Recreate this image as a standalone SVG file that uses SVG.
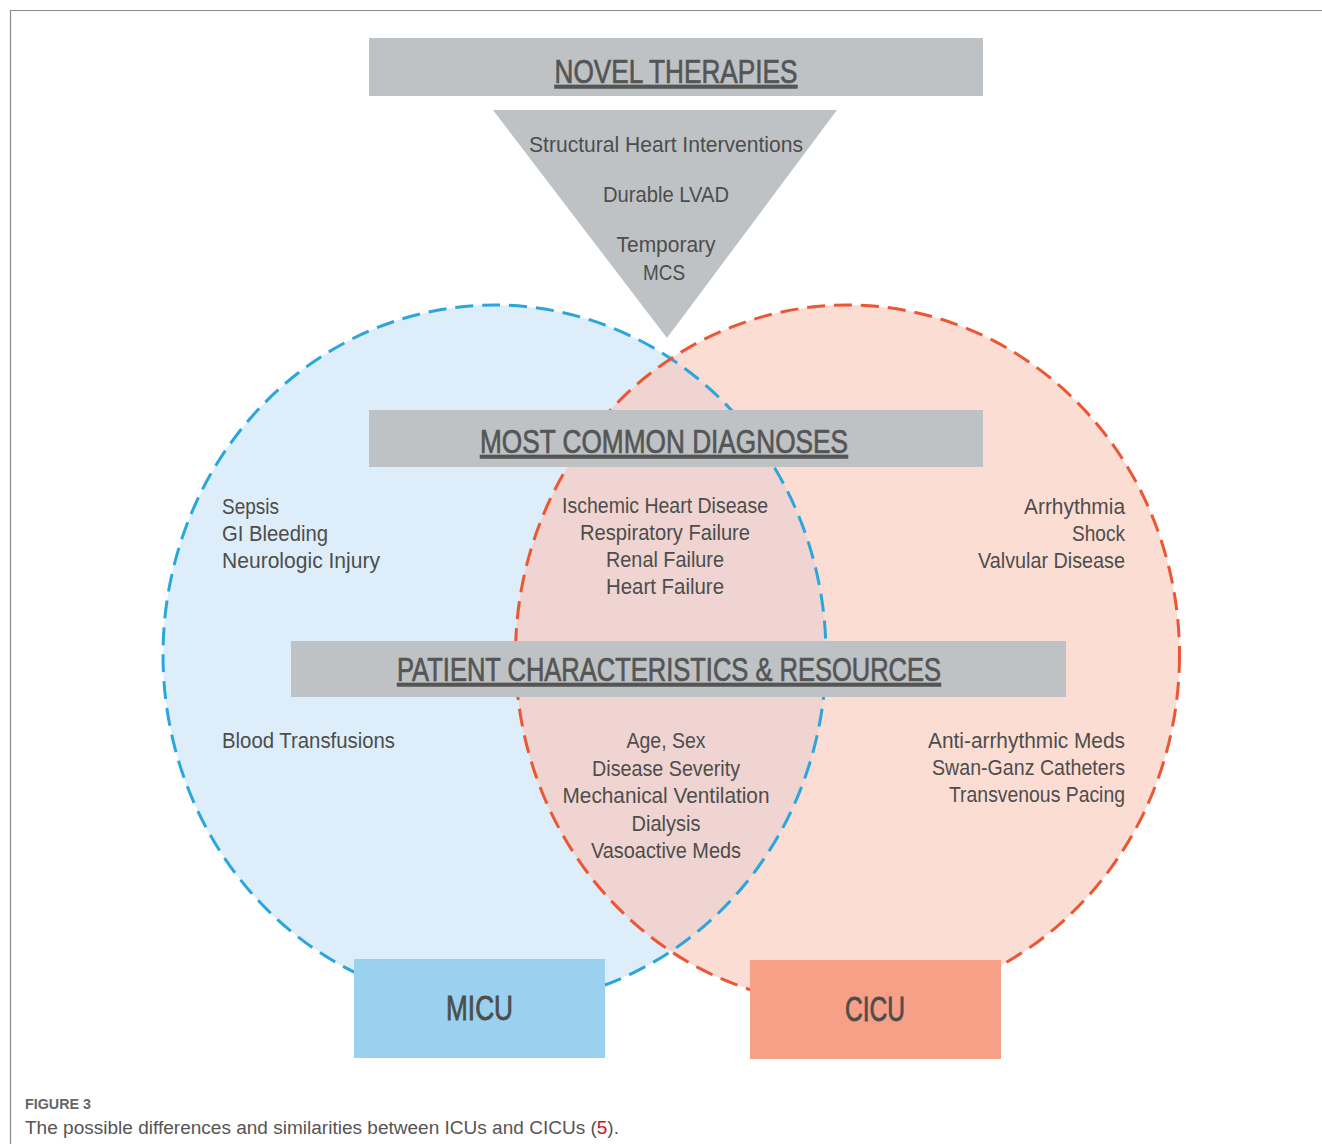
<svg xmlns="http://www.w3.org/2000/svg" width="1322" height="1144" viewBox="0 0 1322 1144">
<style>
.t{font-family:"Liberation Sans",Arial,sans-serif;font-size:22px;fill:#4d4d4d}
.h{font-family:"Liberation Sans",Arial,sans-serif;font-size:33px;fill:#555555;stroke:#555555;stroke-width:0.7;text-decoration:underline}
.u{font-family:"Liberation Sans",Arial,sans-serif;font-size:35px;fill:#4d4d4d;stroke:#4d4d4d;stroke-width:0.8}
.box{fill:#bfc2c4}
.m{text-anchor:middle}
.e{text-anchor:end}
.dash{fill:none;stroke-width:3;stroke-dasharray:18 9}
</style>
<defs>
<clipPath id="clipBlue"><ellipse cx="494.5" cy="655" rx="331.5" ry="350"/></clipPath>
</defs>
<rect width="1322" height="1144" fill="#ffffff"/>
<g id="frame"><path d="M10.5 1144 V10.5 H1322" fill="none" stroke="#8a8a8a" stroke-width="1.2"/></g>

<g id="micu-circle-fill"><ellipse cx="494.5" cy="655" rx="331.5" ry="350" fill="#ddeefa"/></g>
<g id="cicu-circle-fill"><ellipse cx="847.5" cy="655" rx="332" ry="350" fill="#fbddd3"/></g>
<g id="overlap"><ellipse cx="847.5" cy="655" rx="332" ry="350" fill="#efd4d1" clip-path="url(#clipBlue)"/></g>
<g id="micu-circle"><ellipse class="dash" cx="494.5" cy="655" rx="331.5" ry="350" stroke="#2aa6dd"/></g>
<g id="cicu-circle"><ellipse class="dash" cx="847.5" cy="655" rx="332" ry="350" stroke="#ec5634"/></g>

<g id="connectors"></g>

<g id="novel-therapies">
<rect class="box" x="369" y="38" width="614" height="58"/>
<text class="h m" x="676" y="83" textLength="243" lengthAdjust="spacingAndGlyphs">NOVEL THERAPIES</text>
</g>
<g id="therapies-triangle">
<polygon class="box" points="493,110 837,110 667,338"/>
<text class="t m" x="666" y="152" textLength="274" lengthAdjust="spacingAndGlyphs">Structural Heart Interventions</text>
<text class="t m" x="666" y="202" textLength="126" lengthAdjust="spacingAndGlyphs">Durable LVAD</text>
<text class="t m" x="666" y="252" textLength="99" lengthAdjust="spacingAndGlyphs">Temporary</text>
<text class="t m" x="664" y="280" textLength="42" lengthAdjust="spacingAndGlyphs">MCS</text>
</g>

<g id="most-common-diagnoses">
<rect class="box" x="369" y="410" width="614" height="57"/>
<text class="h m" x="664" y="453" textLength="368" lengthAdjust="spacingAndGlyphs">MOST COMMON DIAGNOSES</text>
</g>
<g id="micu-diagnoses">
<text class="t" x="222" y="514" textLength="57" lengthAdjust="spacingAndGlyphs">Sepsis</text>
<text class="t" x="222" y="541" textLength="106" lengthAdjust="spacingAndGlyphs">GI Bleeding</text>
<text class="t" x="222" y="568" textLength="158" lengthAdjust="spacingAndGlyphs">Neurologic Injury</text>
</g>
<g id="shared-diagnoses">
<text class="t m" x="665" y="513" textLength="206" lengthAdjust="spacingAndGlyphs">Ischemic Heart Disease</text>
<text class="t m" x="665" y="540" textLength="170" lengthAdjust="spacingAndGlyphs">Respiratory Failure</text>
<text class="t m" x="665" y="567" textLength="118" lengthAdjust="spacingAndGlyphs">Renal Failure</text>
<text class="t m" x="665" y="594" textLength="118" lengthAdjust="spacingAndGlyphs">Heart Failure</text>
</g>
<g id="cicu-diagnoses">
<text class="t e" x="1125" y="514" textLength="101" lengthAdjust="spacingAndGlyphs">Arrhythmia</text>
<text class="t e" x="1125" y="541" textLength="53" lengthAdjust="spacingAndGlyphs">Shock</text>
<text class="t e" x="1125" y="568" textLength="147" lengthAdjust="spacingAndGlyphs">Valvular Disease</text>
</g>

<g id="patient-characteristics">
<rect class="box" x="291" y="641" width="775" height="56"/>
<text class="h m" x="669" y="681" textLength="544" lengthAdjust="spacingAndGlyphs">PATIENT CHARACTERISTICS &amp; RESOURCES</text>
</g>
<g id="micu-resources">
<text class="t" x="222" y="748" textLength="173" lengthAdjust="spacingAndGlyphs">Blood Transfusions</text>
</g>
<g id="shared-resources">
<text class="t m" x="666" y="748" textLength="79" lengthAdjust="spacingAndGlyphs">Age, Sex</text>
<text class="t m" x="666" y="776" textLength="148" lengthAdjust="spacingAndGlyphs">Disease Severity</text>
<text class="t m" x="666" y="803" textLength="207" lengthAdjust="spacingAndGlyphs">Mechanical Ventilation</text>
<text class="t m" x="666" y="831" textLength="69" lengthAdjust="spacingAndGlyphs">Dialysis</text>
<text class="t m" x="666" y="858" textLength="150" lengthAdjust="spacingAndGlyphs">Vasoactive Meds</text>
</g>
<g id="cicu-resources">
<text class="t e" x="1125" y="748" textLength="197" lengthAdjust="spacingAndGlyphs">Anti-arrhythmic Meds</text>
<text class="t e" x="1125" y="775" textLength="193" lengthAdjust="spacingAndGlyphs">Swan-Ganz Catheters</text>
<text class="t e" x="1125" y="802" textLength="176" lengthAdjust="spacingAndGlyphs">Transvenous Pacing</text>
</g>

<g id="micu">
<rect x="354" y="959" width="251" height="99" fill="#9ad1ef"/>
<text class="u m" x="479.5" y="1020" textLength="67" lengthAdjust="spacingAndGlyphs">MICU</text>
</g>
<g id="cicu">
<rect x="750" y="960" width="251" height="99" fill="#f7a088"/>
<text class="u m" x="875" y="1021" textLength="60" lengthAdjust="spacingAndGlyphs">CICU</text>
</g>

<g id="caption">
<text x="25" y="1109" font-family="'Liberation Sans',Arial,sans-serif" font-size="14" font-weight="bold" fill="#666666" textLength="66" lengthAdjust="spacingAndGlyphs">FIGURE 3</text>
<text x="25" y="1134" font-family="'Liberation Sans',Arial,sans-serif" font-size="18" fill="#555555" textLength="594" lengthAdjust="spacingAndGlyphs">The possible differences and similarities between ICUs and CICUs (<tspan fill="#c8102e">5</tspan>).</text>
</g>
</svg>
